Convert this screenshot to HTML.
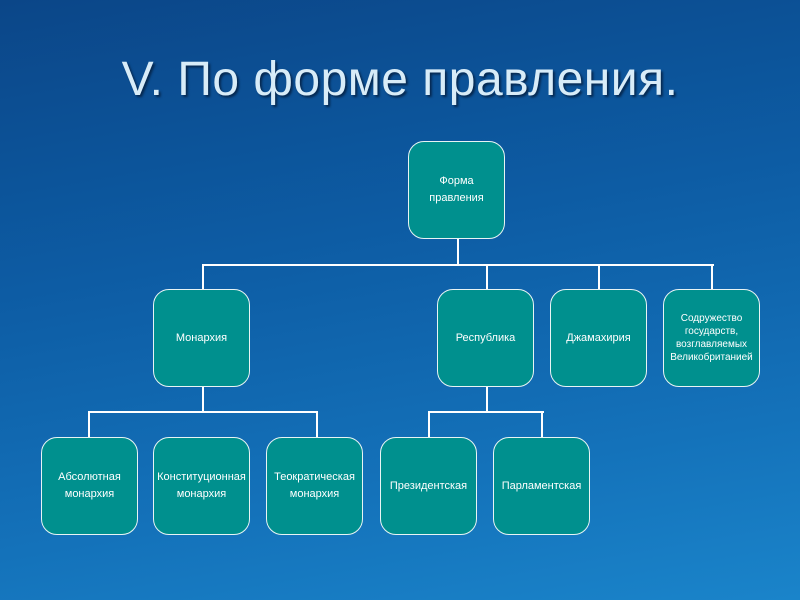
<!DOCTYPE html>
<html><head><meta charset="utf-8"><style>
body{margin:0;width:800px;height:600px;overflow:hidden;font-family:"Liberation Sans",sans-serif;
background:linear-gradient(170deg,#0b4688 0%,#0d5ca4 40%,#1472ba 75%,#1a84ca 100%);position:relative}
h1{position:absolute;left:0;width:800px;top:52px;margin:0;text-align:center;font-weight:normal;font-size:48px;color:#d8ecf8;text-shadow:2px 2px 2px #06284f;letter-spacing:0.5px}
.b{position:absolute;width:95px;height:96px;background:#00908e;border:1.5px solid #e8f4f4;border-radius:16px;color:#fff;font-size:11px;display:flex;align-items:center;justify-content:center;text-align:center;line-height:17px}
.l{position:absolute;background:#fff}
</style></head><body>
<h1>V. По форме правления.</h1>
<div class="l" style="left:457px;top:239px;width:2px;height:27px"></div>
<div class="l" style="left:202px;top:264px;width:512px;height:2px"></div>
<div class="l" style="left:202px;top:264px;width:2px;height:25px"></div>
<div class="l" style="left:486px;top:264px;width:2px;height:25px"></div>
<div class="l" style="left:598px;top:264px;width:2px;height:25px"></div>
<div class="l" style="left:711px;top:264px;width:2px;height:25px"></div>
<div class="l" style="left:202px;top:387px;width:2px;height:26px"></div>
<div class="l" style="left:88px;top:411px;width:230px;height:2px"></div>
<div class="l" style="left:88px;top:411px;width:2px;height:26px"></div>
<div class="l" style="left:316px;top:411px;width:2px;height:26px"></div>
<div class="l" style="left:486px;top:387px;width:2px;height:26px"></div>
<div class="l" style="left:428px;top:411px;width:116px;height:2px"></div>
<div class="l" style="left:428px;top:411px;width:2px;height:26px"></div>
<div class="l" style="left:541px;top:411px;width:2px;height:26px"></div>
<div class="b" style="left:408px;top:141px">Форма<br>правления</div>
<div class="b" style="left:153px;top:289px">Монархия</div>
<div class="b" style="left:437px;top:289px">Республика</div>
<div class="b" style="left:550px;top:289px">Джамахирия</div>
<div class="b" style="left:663px;top:289px;font-size:10px;line-height:13px">Содружество<br>государств,<br>возглавляемых<br>Великобританией</div>
<div class="b" style="left:41px;top:437px">Абсолютная<br>монархия</div>
<div class="b" style="left:153px;top:437px">Конституционная<br>монархия</div>
<div class="b" style="left:266px;top:437px">Теократическая<br>монархия</div>
<div class="b" style="left:380px;top:437px">Президентская</div>
<div class="b" style="left:493px;top:437px">Парламентская</div>
</body></html>
